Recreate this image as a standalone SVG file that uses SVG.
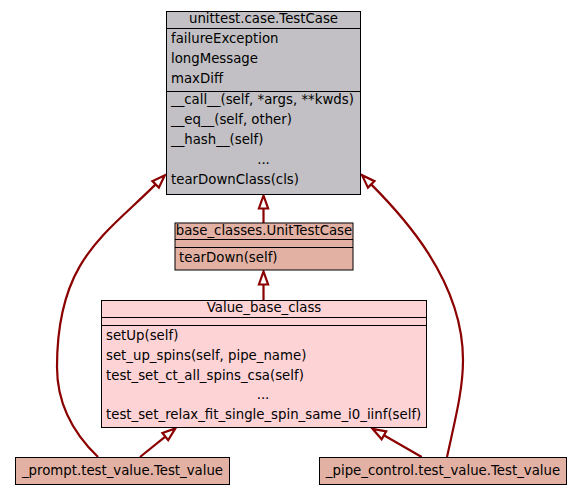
<svg xmlns="http://www.w3.org/2000/svg" width="582" height="496" viewBox="0 0 582 496">
<style>
text{font-family:"DejaVu Sans",sans-serif;font-size:13.3px;fill:#000}
.c{text-anchor:middle}
.box{stroke:#000;stroke-width:1}
.sep{stroke:#000;stroke-width:1}
.grey{fill:#c2c0c4}
.salmon{fill:#e3b1a3}
.pink{fill:#fdd3d6}
.edge{fill:none;stroke:#8b0000;stroke-width:2.2;marker-end:url(#hollow)}
</style>
<defs>
<marker id="hollow" markerUnits="userSpaceOnUse" viewBox="-2 -7 18 14" markerWidth="18" markerHeight="14" refX="0" refY="0" orient="auto" overflow="visible">
<path d="M0,-4.6 L13,0 L0,4.6 Z" fill="#fff" stroke="#8b0000" stroke-width="2.2"/>
</marker>
</defs>
<rect width="582" height="496" fill="#fff"/>
<g id="connectors">
<path class="edge" d="M263.5,223 V208.5"/>
<path class="edge" d="M263.5,300 V284.5"/>
<path class="edge" d="M140,457 L165.3,436.6"/>
<path class="edge" d="M421.7,457 L383.9,435.3"/>
<path class="edge" d="M98,457 C75,435 57,405 57,367 C57,260 105,235 155.6,184.4"/>
<path class="edge" d="M447,457 C455,420 463,390 463,360 C463,280 401.6,214.9 371.2,184.4"/>
</g>
<g id="TestCase">
<rect class="box grey" x="166.5" y="11.5" width="194" height="183"/>
<line class="sep" x1="166.5" y1="28.5" x2="360.5" y2="28.5"/>
<line class="sep" x1="166.5" y1="91.5" x2="360.5" y2="91.5"/>
<text class="c" x="263.5" y="23">unittest.case.TestCase</text>
<text x="171" y="43">failureException</text>
<text x="171" y="63">longMessage</text>
<text x="171" y="83">maxDiff</text>
<text x="171" y="104">__call__(self, *args, **kwds)</text>
<text x="171" y="124">__eq__(self, other)</text>
<text x="171" y="144">__hash__(self)</text>
<text class="c" x="263.5" y="164">...</text>
<text x="171" y="184">tearDownClass(cls)</text>
</g>
<g id="UnitTestCase">
<rect class="box salmon" x="175" y="223" width="178" height="47"/>
<line class="sep" x1="175" y1="239.5" x2="353" y2="239.5"/>
<line class="sep" x1="175" y1="247.5" x2="353" y2="247.5"/>
<text class="c" x="264" y="235">base_classes.UnitTestCase</text>
<text x="179" y="262">tearDown(self)</text>
</g>
<g id="Value_base_class">
<rect class="box pink" x="101.5" y="300.5" width="325" height="127"/>
<line class="sep" x1="101.5" y1="317.5" x2="426.5" y2="317.5"/>
<line class="sep" x1="101.5" y1="325.5" x2="426.5" y2="325.5"/>
<text class="c" x="264" y="312">Value_base_class</text>
<text x="106" y="340">setUp(self)</text>
<text x="106" y="360">set_up_spins(self, pipe_name)</text>
<text x="106" y="380">test_set_ct_all_spins_csa(self)</text>
<text class="c" x="263" y="399">...</text>
<text x="106" y="419">test_set_relax_fit_single_spin_same_i0_iinf(self)</text>
</g>
<g id="prompt_Test_value">
<rect class="box salmon" x="15.5" y="457.5" width="214" height="27"/>
<text class="c" x="122.5" y="475">_prompt.test_value.Test_value</text>
</g>
<g id="pipe_control_Test_value">
<rect class="box salmon" x="319.5" y="457.5" width="247" height="27"/>
<text class="c" x="443" y="475">_pipe_control.test_value.Test_value</text>
</g>
</svg>
